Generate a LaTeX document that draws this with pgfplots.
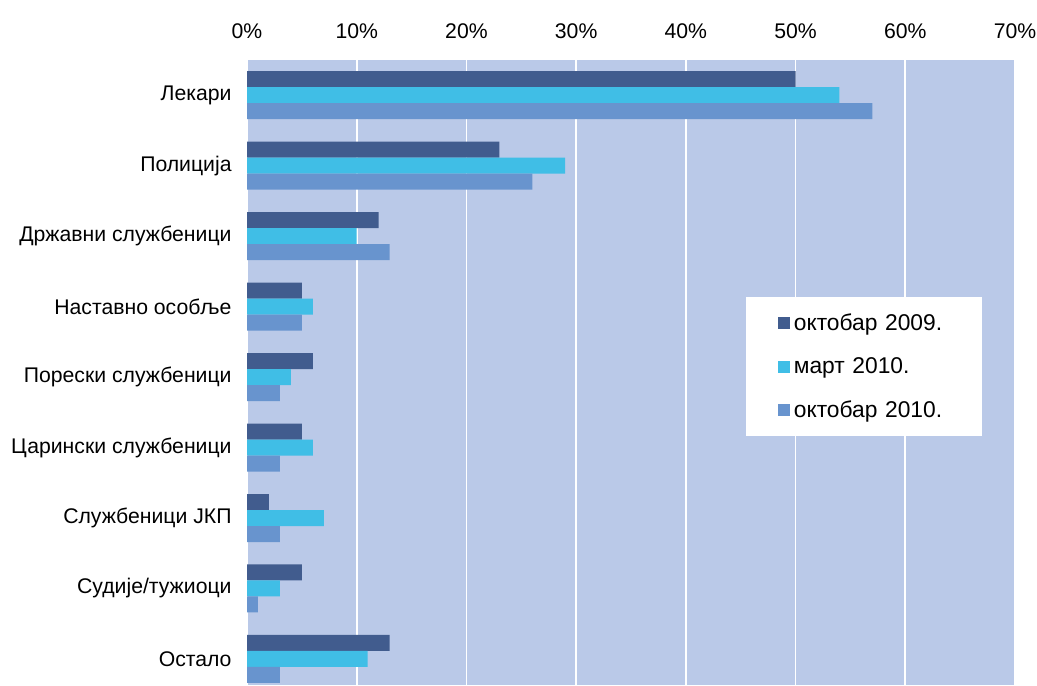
\documentclass[border=0pt]{standalone}
\usepackage{fontspec}
\setmainfont{Liberation Sans}
\usepackage{pgfplots}
\pgfplotsset{compat=1.18}
\definecolor{cA}{HTML}{415C8E}
\definecolor{cB}{HTML}{40BEE6}
\definecolor{cC}{HTML}{6894CE}
\definecolor{bgc}{HTML}{BAC9E8}
\begin{document}
\fontsize{10.6}{13}\selectfont
\begin{tikzpicture}
\useasboundingbox (0,0) rectangle (518.5pt,342.5pt);
\begin{axis}[
  at={(123.5pt,0pt)}, anchor=south west,
  scale only axis, width=384pt, height=312.5pt,
  xbar=0pt, bar width=8pt,
  xmin=0, xmax=70, ymin=-0.5, ymax=8.37,
  y dir=reverse,
  axis background/.style={fill=bgc},
  axis line style={draw=none},
  xtick={0,10,...,70},
  xticklabel pos=upper,
  xticklabel={\pgfmathprintnumber{\tick}\%},
  /pgf/number format/assume math mode=true,
  xmajorgrids, grid style={white, line width=0.8pt},
  major tick length=0pt,
  ytick={0,...,8},
  yticklabels={Лекари,Полиција,Државни службеници,Наставно особље,Порески службеници,Царински службеници,Службеници ЈКП,Судије/тужиоци,Остало},
  yticklabel style={xshift=-4pt},
  xticklabel style={yshift=7pt},
  tick label style={font=\fontsize{10.6}{13}\selectfont},
  legend style={at={(0.649,0.621)}, anchor=north west, draw=none, fill=white,
    font=\fontsize{11.4}{13}\selectfont, inner xsep=16pt, inner ysep=6pt,
    row sep=8pt, cells={anchor=west}, text width=76pt},
  legend image code/.code={\fill[#1] (0pt,-3pt) rectangle (6pt,3pt);},
  every axis plot/.append style={draw=none},
]
\addplot[fill=cA, bar shift=8pt] coordinates {(50,0) (23,1) (12,2) (5,3) (6,4) (5,5) (2,6) (5,7) (13,8)};
\addplot[fill=cB, bar shift=0pt] coordinates {(54,0) (29,1) (10,2) (6,3) (4,4) (6,5) (7,6) (3,7) (11,8)};
\addplot[fill=cC, bar shift=-8pt] coordinates {(57,0) (26,1) (13,2) (5,3) (3,4) (3,5) (3,6) (1,7) (3,8)};
\legend{октобар 2009.,март 2010.,октобар 2010.}
\end{axis}
\end{tikzpicture}
\end{document}
